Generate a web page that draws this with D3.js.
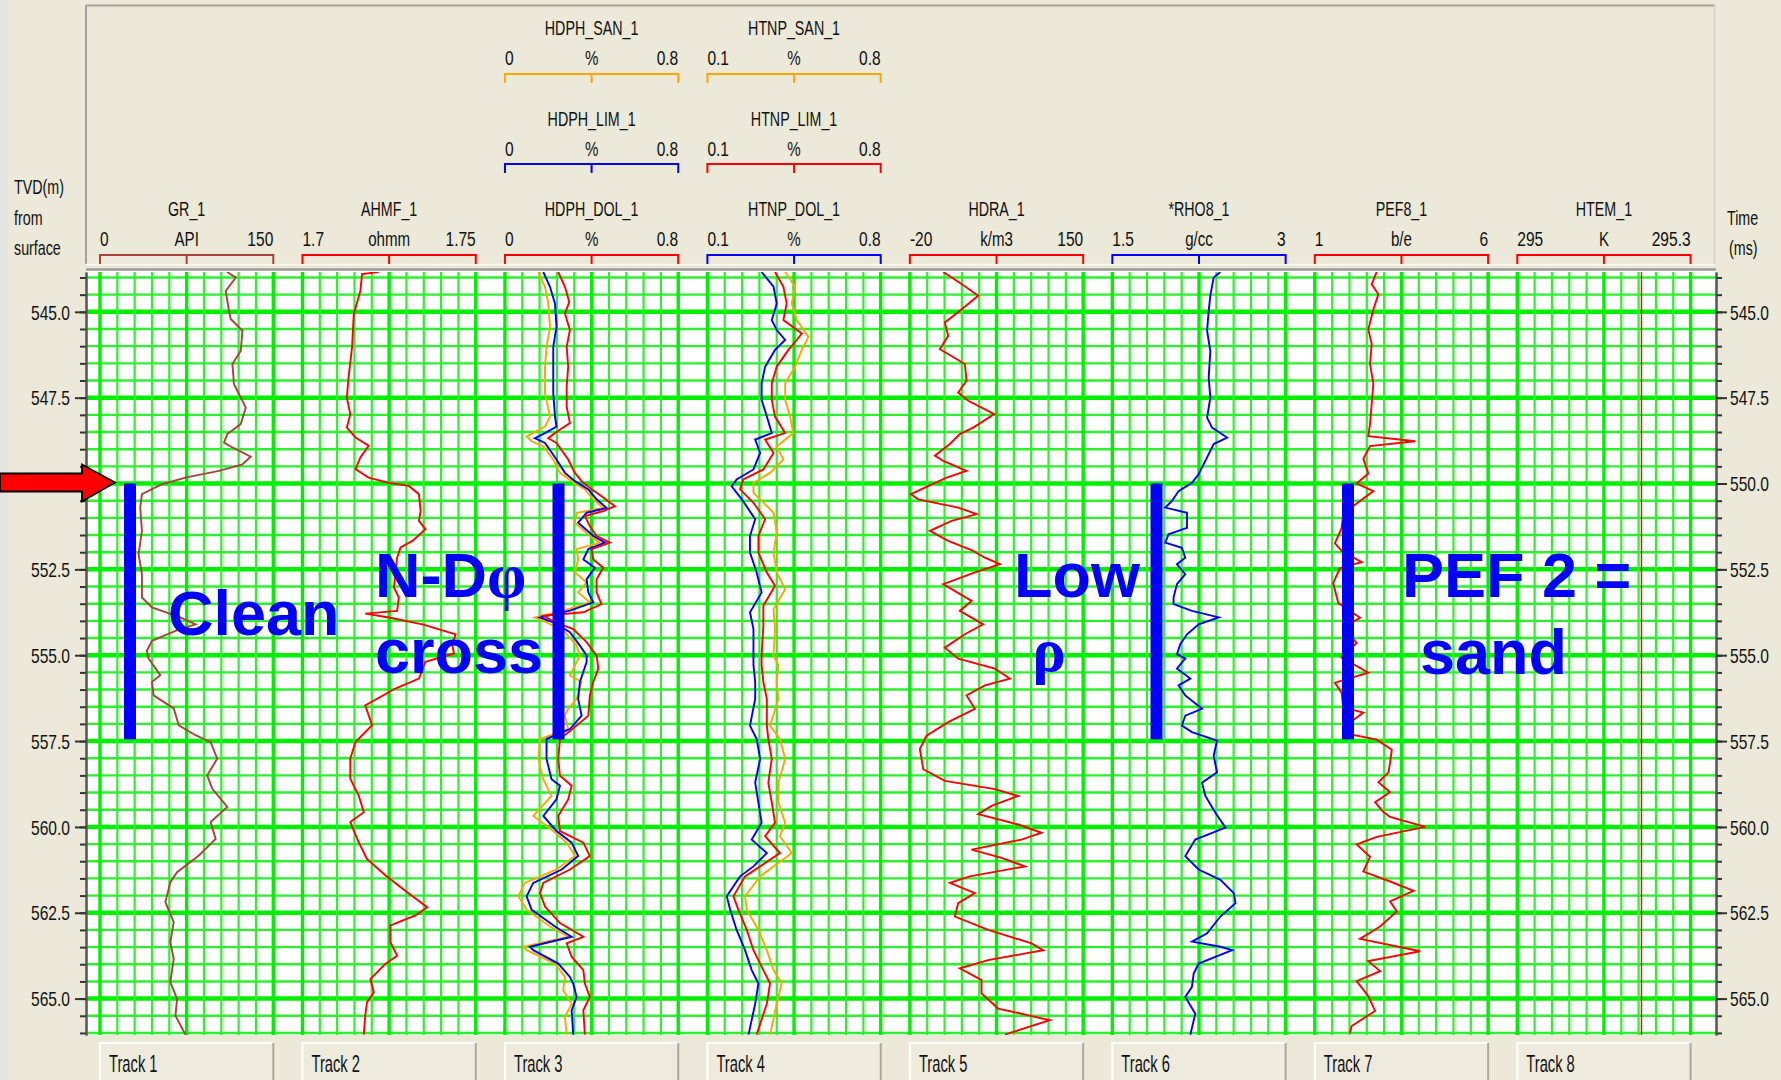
<!DOCTYPE html>
<html><head><meta charset="utf-8">
<script src="https://cdn.jsdelivr.net/npm/d3@7/dist/d3.min.js"></script>
<style>
html,body{margin:0;padding:0;background:#ECE9D8;overflow:hidden}
svg{display:block}
</style></head><body>
<svg id="chart" width="1781" height="1080"></svg>
<script>
// ================= DATA =================
const depthDomain = [543.84, 566.06];
const depthLabelTicks = [545.0, 547.5, 550.0, 552.5, 555.0, 557.5, 560.0, 562.5, 565.0];
const trackLabels = ["Track 1","Track 2","Track 3","Track 4","Track 5","Track 6","Track 7","Track 8"];

const curveNames    = ["GR_1","AHMF_1","HDPH_SAN_1","HDPH_LIM_1","HDPH_DOL_1","HTNP_SAN_1","HTNP_LIM_1","HTNP_DOL_1","HDRA_1","*RHO8_1","PEF8_1","HTEM_1"];
const curveTrack    = [0,1,2,2,2,3,3,3,4,5,6,7];
const curveRow      = [2,2,0,1,2,0,1,2,2,2,2,2];
const curveMin      = [0,1.7,0,0,0,0.1,0.1,0.1,-20,1.5,1,295];
const curveMax      = [150,1.75,0.8,0.8,0.8,0.8,0.8,0.8,150,3,6,295.3];
const curveMinLabel = ["0","1.7","0","0","0","0.1","0.1","0.1","-20","1.5","1","295"];
const curveMaxLabel = ["150","1.75","0.8","0.8","0.8","0.8","0.8","0.8","150","3","6","295.3"];
const curveUnits    = ["API","ohmm","%","%","%","%","%","%","k/m3","g/cc","b/e","K"];

const GR_1 = [[543.84,110],[544.0,117.5],[544.39,108.8],[544.97,111.7],[545.21,113.1],[545.55,123.3],[546.14,121.8],[546.52,114.6],[547.11,116.0],[547.79,126.2],[548.27,121.8],[548.56,110.2],[548.81,107.3],[548.95,114.6],[549.22,130.5],[549.44,123.3],[549.63,103.0],[549.83,74.0],[550.02,53.7],[550.31,36.3],[550.70,34.8],[551.38,36.3],[552.06,33.4],[552.64,36.3],[553.32,36.3],[553.61,45.0],[553.90,69.6],[554.10,82.7],[554.29,65.3],[554.58,45.0],[554.87,40.6],[555.10,42.1],[555.58,52.2],[555.78,45.0],[556.17,46.4],[556.55,63.8],[557.04,68.2],[557.33,82.7],[557.53,95.7],[558.01,101.5],[558.50,92.8],[558.89,97.2],[559.42,110.2],[559.86,95.7],[560.35,100.1],[560.83,85.6],[561.32,66.7],[561.61,60.9],[562.19,56.6],[562.77,63.8],[563.36,60.9],[563.84,63.8],[564.52,60.9],[565.01,66.7],[565.50,65.3],[566.05,74.0]];

const AHMF_1 = [[543.84,1.7220],[543.90,1.7172],[544.39,1.7167],[545.07,1.7148],[546.04,1.7143],[546.91,1.7133],[547.50,1.7128],[547.98,1.7138],[548.37,1.7128],[548.66,1.7153],[548.90,1.7191],[549.24,1.7167],[549.58,1.7153],[549.83,1.7191],[549.98,1.7249],[550.07,1.7307],[550.31,1.7336],[550.80,1.7341],[551.09,1.7336],[551.33,1.7355],[551.67,1.7317],[551.86,1.7283],[552.16,1.7273],[552.64,1.7268],[553.03,1.7264],[553.32,1.7278],[553.71,1.7273],[553.79,1.7181],[553.90,1.7249],[554.10,1.7346],[554.39,1.7442],[554.68,1.7432],[554.95,1.7437],[555.19,1.7355],[555.68,1.7336],[555.97,1.7268],[556.46,1.7181],[557.04,1.7201],[557.53,1.7153],[558.01,1.7138],[558.60,1.7138],[559.08,1.7162],[559.57,1.7177],[559.86,1.7138],[560.44,1.7162],[560.93,1.7186],[561.41,1.7239],[561.90,1.7302],[562.34,1.7360],[562.58,1.7326],[562.87,1.7254],[563.36,1.7254],[563.75,1.7273],[563.99,1.7239],[564.43,1.7196],[564.82,1.7206],[565.11,1.7186],[565.50,1.7181],[566.05,1.7177]];

const HDPH_SAN_1 = [[543.84,0.154],[544.27,0.185],[544.76,0.200],[545.44,0.208],[546.02,0.192],[546.60,0.185],[547.37,0.185],[548.05,0.208],[548.34,0.185],[548.63,0.100],[548.77,0.123],[548.92,0.177],[549.30,0.223],[549.69,0.254],[549.93,0.308],[550.17,0.369],[550.46,0.408],[550.71,0.454],[550.85,0.331],[551.14,0.323],[551.53,0.392],[551.72,0.438],[551.91,0.331],[552.21,0.338],[552.59,0.323],[552.88,0.377],[553.17,0.338],[553.46,0.392],[553.70,0.269],[553.90,0.138],[554.04,0.192],[554.33,0.277],[554.72,0.331],[555.01,0.346],[555.20,0.331],[555.59,0.300],[555.78,0.354],[556.27,0.331],[556.56,0.292],[556.76,0.277],[557.15,0.292],[557.44,0.162],[558.02,0.154],[558.61,0.177],[559.10,0.215],[559.68,0.131],[560.12,0.223],[560.46,0.285],[560.85,0.323],[561.24,0.238],[561.63,0.092],[562.02,0.062],[562.41,0.100],[562.90,0.208],[563.20,0.292],[563.49,0.085],[563.59,0.100],[563.98,0.231],[564.37,0.277],[564.76,0.269],[565.15,0.308],[565.54,0.277],[566.05,0.285]];

const HDPH_LIM_1 = [[543.84,0.177],[544.27,0.208],[544.76,0.231],[545.44,0.238],[546.02,0.223],[546.60,0.223],[547.37,0.223],[548.05,0.231],[548.34,0.238],[548.53,0.185],[548.68,0.138],[548.82,0.185],[549.30,0.238],[549.69,0.277],[549.93,0.323],[550.17,0.385],[550.46,0.423],[550.71,0.469],[550.85,0.377],[551.14,0.338],[551.53,0.408],[551.72,0.462],[551.91,0.385],[552.21,0.362],[552.45,0.415],[552.79,0.377],[553.17,0.385],[553.46,0.408],[553.70,0.300],[553.90,0.162],[554.04,0.223],[554.33,0.300],[554.72,0.346],[555.01,0.377],[555.20,0.377],[555.78,0.346],[556.27,0.338],[556.76,0.354],[557.15,0.300],[557.44,0.192],[558.02,0.192],[558.61,0.215],[558.80,0.254],[559.20,0.238],[559.68,0.177],[560.12,0.238],[560.46,0.308],[560.85,0.338],[561.24,0.262],[561.63,0.131],[562.02,0.100],[562.41,0.123],[562.90,0.231],[563.20,0.308],[563.49,0.115],[563.59,0.131],[563.98,0.246],[564.37,0.300],[564.56,0.315],[564.95,0.331],[565.34,0.308],[566.05,0.315]];

const HDPH_DOL_1 = [[543.84,0.246],[544.27,0.277],[544.71,0.297],[545.05,0.277],[545.53,0.300],[546.02,0.285],[546.60,0.292],[547.18,0.285],[547.76,0.285],[548.24,0.300],[548.53,0.231],[548.68,0.200],[548.82,0.238],[549.30,0.292],[549.69,0.323],[549.93,0.354],[550.17,0.400],[550.37,0.446],[550.66,0.508],[550.80,0.454],[550.95,0.369],[551.24,0.392],[551.53,0.423],[551.72,0.485],[551.91,0.400],[552.21,0.408],[552.45,0.454],[552.79,0.423],[553.17,0.423],[553.51,0.446],[553.75,0.362],[553.85,0.177],[554.04,0.231],[554.24,0.315],[554.62,0.377],[555.01,0.423],[555.39,0.431],[555.78,0.408],[556.17,0.392],[556.76,0.385],[557.05,0.331],[557.44,0.254],[558.02,0.246],[558.51,0.254],[558.80,0.308],[559.20,0.292],[559.68,0.246],[560.12,0.254],[560.46,0.362],[560.85,0.392],[561.24,0.300],[561.63,0.177],[561.93,0.162],[562.32,0.185],[562.80,0.254],[563.20,0.362],[563.39,0.285],[563.78,0.308],[564.17,0.362],[564.56,0.369],[564.95,0.392],[565.34,0.362],[566.05,0.369]];

const HTNP_SAN_1 = [[543.84,0.414],[544.27,0.454],[544.76,0.441],[545.24,0.461],[545.73,0.508],[546.11,0.481],[546.60,0.454],[547.08,0.414],[547.56,0.414],[548.05,0.434],[548.53,0.447],[548.92,0.380],[549.30,0.407],[549.69,0.353],[549.98,0.286],[550.27,0.286],[550.85,0.367],[551.43,0.380],[552.01,0.367],[552.59,0.380],[553.08,0.414],[553.66,0.367],[554.24,0.373],[555.01,0.367],[555.29,0.387],[555.78,0.380],[556.27,0.387],[557.05,0.353],[557.44,0.393],[558.02,0.414],[558.71,0.387],[559.29,0.387],[559.88,0.414],[560.27,0.393],[560.76,0.441],[561.15,0.367],[561.44,0.313],[562.02,0.252],[562.41,0.259],[563.0,0.306],[563.59,0.340],[564.17,0.367],[564.56,0.400],[565.15,0.380],[566.05,0.353]];

const HTNP_LIM_1 = [[543.84,0.373],[544.27,0.407],[544.76,0.420],[545.24,0.407],[545.63,0.481],[545.82,0.461],[546.11,0.427],[546.60,0.380],[547.08,0.360],[547.56,0.360],[548.05,0.373],[548.53,0.414],[548.72,0.333],[549.11,0.367],[549.59,0.326],[549.88,0.245],[550.17,0.232],[550.56,0.286],[551.04,0.333],[551.53,0.306],[552.01,0.306],[552.59,0.340],[552.98,0.373],[553.56,0.326],[554.14,0.326],[555.01,0.319],[555.29,0.319],[555.78,0.326],[556.27,0.340],[557.05,0.340],[557.44,0.346],[558.02,0.360],[558.71,0.346],[559.29,0.360],[559.88,0.373],[560.27,0.333],[560.76,0.393],[561.15,0.313],[561.44,0.252],[562.02,0.205],[562.41,0.225],[563.0,0.259],[563.59,0.286],[564.17,0.326],[564.56,0.353],[565.15,0.340],[566.05,0.299]];

const HTNP_DOL_1 = [[543.84,0.319],[544.27,0.367],[544.76,0.380],[545.24,0.360],[545.53,0.380],[545.82,0.414],[546.11,0.373],[546.60,0.333],[547.08,0.319],[547.56,0.319],[548.05,0.340],[548.53,0.360],[548.72,0.293],[549.11,0.313],[549.59,0.286],[549.88,0.218],[550.08,0.198],[550.46,0.239],[551.04,0.293],[551.53,0.272],[552.01,0.272],[552.59,0.299],[553.17,0.319],[553.75,0.272],[554.24,0.286],[555.01,0.286],[555.29,0.286],[555.78,0.293],[556.27,0.293],[557.05,0.272],[557.44,0.299],[558.02,0.313],[558.71,0.293],[559.29,0.306],[559.88,0.319],[560.37,0.279],[560.76,0.340],[561.15,0.286],[561.44,0.232],[562.02,0.178],[562.41,0.192],[563.0,0.218],[563.59,0.252],[564.17,0.279],[564.56,0.306],[565.15,0.293],[566.05,0.266]];

const HDRA_1 = [[543.84,12.7],[544.19,30.7],[544.53,47.0],[544.97,29.0],[545.31,14.3],[545.70,17.6],[546.09,9.4],[546.52,33.9],[547.01,35.6],[547.35,27.4],[547.59,37.2],[547.98,62.7],[548.37,42.1],[548.56,29.0],[548.85,19.2],[549.19,4.5],[549.34,12.7],[549.63,35.6],[549.83,16.0],[550.12,-5.3],[550.31,-19.0],[550.46,-11.8],[550.70,27.4],[550.89,45.4],[551.09,20.9],[551.38,-0.4],[551.67,17.6],[551.96,42.1],[552.16,53.6],[552.35,68.3],[552.59,43.8],[552.93,12.7],[553.42,40.5],[553.71,29.0],[554.10,51.9],[554.39,33.9],[554.78,14.3],[555.10,27.4],[555.39,63.4],[555.68,78.1],[555.88,53.6],[556.17,35.6],[556.56,43.8],[556.95,17.6],[557.34,-3.7],[557.73,-10.2],[558.32,-6.9],[558.66,14.3],[558.90,63.4],[559.10,86.3],[559.39,60.1],[559.63,47.0],[559.93,86.3],[560.17,109.1],[560.37,89.5],[560.66,40.5],[560.90,69.9],[561.15,92.8],[561.44,38.8],[561.63,19.2],[561.93,43.8],[562.22,27.4],[562.61,24.1],[563.0,56.8],[563.39,99.3],[563.59,110.8],[563.88,56.8],[564.12,29.0],[564.46,50.3],[564.85,50.3],[565.29,66.6],[565.63,117.3],[566.05,73.2]];

const RHO8_1 = [[543.84,2.435],[544.0,2.377],[544.53,2.348],[544.97,2.334],[545.55,2.320],[546.14,2.348],[546.91,2.334],[547.50,2.348],[548.08,2.320],[548.37,2.363],[548.66,2.493],[548.85,2.377],[549.24,2.320],[549.73,2.247],[549.98,2.189],[550.22,2.073],[550.51,2.015],[550.70,1.958],[550.85,2.146],[551.29,2.146],[551.48,1.986],[551.72,1.958],[551.87,2.102],[552.16,2.131],[552.35,2.059],[552.64,2.131],[552.93,2.059],[553.32,2.030],[553.51,2.030],[553.71,2.189],[553.90,2.421],[554.10,2.247],[554.39,2.146],[554.68,2.088],[554.97,2.059],[555.10,2.131],[555.39,2.059],[555.68,2.175],[555.88,2.073],[556.17,2.131],[556.56,2.276],[556.76,2.131],[557.05,2.102],[557.24,2.189],[557.49,2.406],[557.93,2.377],[558.41,2.406],[558.71,2.276],[559.10,2.305],[559.59,2.392],[560.02,2.479],[560.37,2.218],[560.85,2.131],[561.24,2.247],[561.54,2.435],[561.93,2.551],[562.22,2.566],[562.61,2.435],[563.10,2.320],[563.34,2.189],[563.49,2.435],[563.59,2.537],[563.98,2.247],[564.27,2.204],[564.66,2.189],[564.95,2.131],[565.44,2.218],[566.05,2.175]];

const PEF8_1 = [[543.84,2.786],[544.20,2.641],[544.49,2.834],[544.93,2.689],[545.51,2.544],[545.94,2.641],[546.52,2.593],[547.10,2.689],[547.68,2.641],[548.26,2.593],[548.62,2.544],[548.77,3.896],[548.91,2.593],[549.28,2.400],[549.71,2.544],[550.0,2.207],[550.22,2.689],[550.58,2.207],[550.87,1.821],[551.30,1.772],[551.74,1.579],[551.96,1.772],[552.29,2.351],[552.46,1.724],[552.90,1.531],[553.48,1.676],[553.91,2.303],[554.20,1.821],[554.64,2.207],[555.07,1.772],[555.51,2.544],[555.80,1.579],[556.09,1.772],[556.52,1.821],[556.67,2.400],[556.96,2.014],[557.32,2.110],[557.46,2.786],[557.75,3.220],[558.12,3.172],[558.41,3.124],[558.70,2.834],[558.99,3.172],[559.28,2.738],[559.57,2.979],[559.71,3.172],[560.0,4.186],[560.29,2.786],[560.51,2.207],[560.87,2.593],[561.30,2.400],[561.59,3.172],[561.86,3.848],[562.17,3.172],[562.46,3.365],[562.90,2.882],[563.26,2.303],[563.62,4.041],[563.91,2.544],[564.20,2.882],[564.49,2.207],[564.93,2.544],[565.36,2.738],[565.80,2.062],[566.01,2.014]];

const HTEM_1 = [[543.84,295.215],[566.06,295.215]];

const curveData = [GR_1, AHMF_1, HDPH_SAN_1, HDPH_LIM_1, HDPH_DOL_1, HTNP_SAN_1, HTNP_LIM_1, HTNP_DOL_1, HDRA_1, RHO8_1, PEF8_1, HTEM_1];

// annotation texts
const annotations = ["Clean", "N-D", "φ", "cross", "Low", "ρ", "PEF 2 =", "sand"];

// ================= STYLE / LAYOUT =================
const curveColors = ["#A8423C","#FF0000","#FFA500","#0000FF","#FF0000","#FFA500","#FF0000","#0000FF","#FF0000","#0000FF","#FF0000","#FF0000"];
const W = 1781, H = 1080;
const FONT = '"Liberation Sans", Arial, Helvetica, sans-serif';
const GRID_L = 86, GRID_R = 1716, GRID_T = 272, GRID_B = 1035;
const TRACK_X0 = 100, TRACK_STEP = 202.47, TRACK_W = 173.3;
const trackX = i => TRACK_X0 + i * TRACK_STEP;
const rowNameBase = [35, 126, 216], rowLabelBase = [65, 156, 246], rowBracket = [74, 164, 255];

const svg = d3.select("#chart");
svg.append("rect").attr("width", W).attr("height", H).attr("fill", "#ECE9D8");
svg.append("rect").attr("x", 0).attr("y", 0).attr("width", 8).attr("height", H).attr("fill", "#E3E3E1");

function label(g, x, y, str, size, sx, anchor, color, weight) {
  return g.append("text")
    .attr("transform", `translate(${x},${y}) scale(${sx},1)`)
    .attr("text-anchor", anchor || "start")
    .attr("font-family", FONT)
    .attr("font-size", size)
    .attr("font-weight", weight || "normal")
    .attr("fill", color || "#111")
    .text(str);
}

const y = d3.scaleLinear().domain(depthDomain).range([GRID_T, GRID_B]);

// ---------- header panel ----------
const hdr = svg.append("g");
hdr.append("rect").attr("x", GRID_L).attr("y", 5).attr("width", 1629).attr("height", 259).attr("fill", "#ECE9D8");
hdr.append("line").attr("x1", GRID_L).attr("x2", 1715).attr("y1", 5.5).attr("y2", 5.5).attr("stroke", "#A5A49C").attr("stroke-width", 2);
hdr.append("line").attr("x1", GRID_L).attr("x2", GRID_L).attr("y1", 5).attr("y2", 264).attr("stroke", "#A5A49C").attr("stroke-width", 2);
hdr.append("line").attr("x1", 1714.5).attr("x2", 1714.5).attr("y1", 5).attr("y2", 264).attr("stroke", "#CFCDC2").attr("stroke-width", 1.5);
hdr.append("line").attr("x1", GRID_L).attr("x2", 1715).attr("y1", 264.5).attr("y2", 264.5).attr("stroke", "#FAF9F3").attr("stroke-width", 1.5);

curveNames.forEach((nm, i) => {
  const t = curveTrack[i], r = curveRow[i];
  const x0 = trackX(t), x1 = x0 + TRACK_W, xm = (x0 + x1) / 2;
  const col = curveColors[i];
  label(hdr, xm, rowNameBase[r], nm, 21, 0.68, "middle");
  label(hdr, x0, rowLabelBase[r], curveMinLabel[i], 21, 0.74, "start");
  label(hdr, xm, rowLabelBase[r], curveUnits[i], 21, 0.72, "middle");
  label(hdr, x1, rowLabelBase[r], curveMaxLabel[i], 21, 0.74, "end");
  const by = rowBracket[r];
  hdr.append("path")
    .attr("d", `M${x0},${by + 9}V${by}H${x1}V${by + 9}M${xm},${by}V${by + 9}`)
    .attr("fill", "none").attr("stroke", col).attr("stroke-width", 2);
});

// left / right header captions
["TVD(m)", "from", "surface"].forEach((s, k) => label(svg, 14, [194, 225, 255][k], s, 21, 0.68, "start"));
label(svg, 1727, 225, "Time", 21, 0.68, "start");
label(svg, 1729, 255, "(ms)", 21, 0.68, "start");

// ---------- grid ----------
const grid = svg.append("g");
grid.append("line").attr("x1", GRID_L).attr("x2", GRID_R).attr("y1", 269.5).attr("y2", 269.5).attr("stroke", "#9C9B94").attr("stroke-width", 2.5);
grid.append("rect").attr("x", GRID_L).attr("y", GRID_T - 1).attr("width", GRID_R - GRID_L).attr("height", GRID_B - GRID_T + 1).attr("fill", "#FFFFFF");

const hLines = d3.range(544.0, 566.001, 0.5);
grid.selectAll("line.h").data(hLines).enter().append("line")
  .attr("x1", GRID_L).attr("x2", GRID_R)
  .attr("y1", d => y(d)).attr("y2", d => y(d))
  .attr("stroke", d => (Math.abs(d / 2.5 - Math.round(d / 2.5)) < 1e-6) ? "#00F000" : "#2EF02E")
  .attr("stroke-width", d => (Math.abs(d / 2.5 - Math.round(d / 2.5)) < 1e-6) ? 4.5 : 2.4);

d3.range(8).forEach(t => {
  const gx = d3.scaleLinear().domain([0, 10]).range([trackX(t), trackX(t) + TRACK_W]);
  grid.selectAll(null).data(d3.range(0, 11)).enter().append("line")
    .attr("x1", d => gx(d)).attr("x2", d => gx(d))
    .attr("y1", GRID_T).attr("y2", GRID_B)
    .attr("stroke", d => d % 5 === 0 ? "#00F000" : "#2EF02E")
    .attr("stroke-width", d => d % 5 === 0 ? 3.4 : 2.2);
});

// ---------- axes ----------
const minorTicks = hLines;
const axL1 = svg.append("g").attr("transform", `translate(${GRID_L},0)`)
  .call(d3.axisLeft(y).tickValues(minorTicks).tickSize(6).tickSizeOuter(0).tickFormat(""));
const axL2 = svg.append("g").attr("transform", `translate(${GRID_L},0)`)
  .call(d3.axisLeft(y).tickValues(depthLabelTicks).tickSize(11).tickSizeOuter(0).tickFormat(d3.format(".1f")));
const axR1 = svg.append("g").attr("transform", `translate(${GRID_R},0)`)
  .call(d3.axisRight(y).tickValues(minorTicks).tickSize(6).tickSizeOuter(0).tickFormat(""));
const axR2 = svg.append("g").attr("transform", `translate(${GRID_R},0)`)
  .call(d3.axisRight(y).tickValues(depthLabelTicks).tickSize(11).tickSizeOuter(0).tickFormat(d3.format(".1f")));
[axL1, axL2, axR1, axR2].forEach(a => {
  a.selectAll("path.domain").attr("stroke", "#555").attr("stroke-width", 2);
  a.selectAll(".tick line").attr("stroke", "#333").attr("stroke-width", 2);
});
const SXA = 0.78;
axL2.selectAll(".tick text").attr("font-family", FONT).attr("font-size", 20).attr("fill", "#111")
  .attr("x", -16 / SXA).attr("dy", "0.36em").attr("transform", `scale(${SXA},1)`);
axR2.selectAll(".tick text").attr("font-family", FONT).attr("font-size", 20).attr("fill", "#111")
  .attr("x", 14 / SXA).attr("dy", "0.36em").attr("transform", `scale(${SXA},1)`);

// ---------- curves ----------
svg.append("clipPath").attr("id", "gclip").append("rect")
  .attr("x", GRID_L).attr("y", GRID_T).attr("width", GRID_R - GRID_L).attr("height", GRID_B - GRID_T);
const curvesG = svg.append("g").attr("clip-path", "url(#gclip)");
curveData.forEach((data, i) => {
  const t = curveTrack[i];
  const xs = d3.scaleLinear().domain([curveMin[i], curveMax[i]]).range([trackX(t), trackX(t) + TRACK_W]);
  const line = d3.line().x(d => xs(d[1])).y(d => y(d[0]));
  curvesG.append("path").datum(data)
    .attr("d", line)
    .attr("fill", "none")
    .attr("stroke", curveColors[i])
    .attr("stroke-width", i === 11 ? 1.4 : 1.9)
    .attr("stroke-linejoin", "miter");
});

// ---------- bottom track boxes ----------
const bot = svg.append("g");
trackLabels.forEach((s, t) => {
  const x0 = trackX(t), x1 = x0 + TRACK_W;
  bot.append("rect").attr("x", x0).attr("y", 1043).attr("width", TRACK_W).attr("height", 40).attr("fill", "#EEEBDD");
  bot.append("path").attr("d", `M${x0},1082V1043H${x1}`).attr("fill", "none").attr("stroke", "#FFFFFF").attr("stroke-width", 2);
  bot.append("path").attr("d", `M${x1},1043V1082`).attr("fill", "none").attr("stroke", "#ACA899").attr("stroke-width", 2);
  label(bot, x0 + 9, 1072, s, 23, 0.64, "start");
});

// ---------- annotations ----------
const ann = svg.append("g");
const BLUE = "#0000FF";
// vertical marker bars over the intervals 550.0 – 557.45 m
const barTop = y(550.0), barBot = y(557.45);
[130, 558.5, 1156.5, 1348].forEach(cx => {
  ann.append("rect").attr("x", cx - 6).attr("y", barTop).attr("width", 12).attr("height", barBot - barTop).attr("fill", BLUE);
});
function big(x, yb, s, anchor, fam) {
  return ann.append("text").attr("x", x).attr("y", yb).attr("text-anchor", anchor || "start")
    .attr("font-family", fam || FONT).attr("font-weight", "bold").attr("font-size", 63).attr("fill", BLUE).text(s);
}
big(168, 635, annotations[0]);
const nd = ann.append("text").attr("x", 375).attr("y", 597).attr("font-family", FONT).attr("font-weight", "bold").attr("font-size", 63).attr("fill", BLUE);
nd.append("tspan").text(annotations[1]);
nd.append("tspan").attr("font-family", '"Liberation Serif", "Times New Roman", serif').text(annotations[2]);
big(375, 673, annotations[3]);
big(1014, 597, annotations[4]);
big(1049, 671, annotations[5], "middle", '"Liberation Serif", "Times New Roman", serif');
big(1402, 597, annotations[6]);
big(1420, 674, annotations[7]);

// red arrow pointing at 550.0 m
const ay = y(550.0) - 1;
ann.append("path")
  .attr("d", `M0,${ay - 9}H82V${ay - 18}L115,${ay}L82,${ay + 19}V${ay + 9}H0Z`)
  .attr("fill", "#FF0000").attr("stroke", "#000").attr("stroke-width", 1.8).attr("stroke-linejoin", "miter");
</script>
</body></html>
